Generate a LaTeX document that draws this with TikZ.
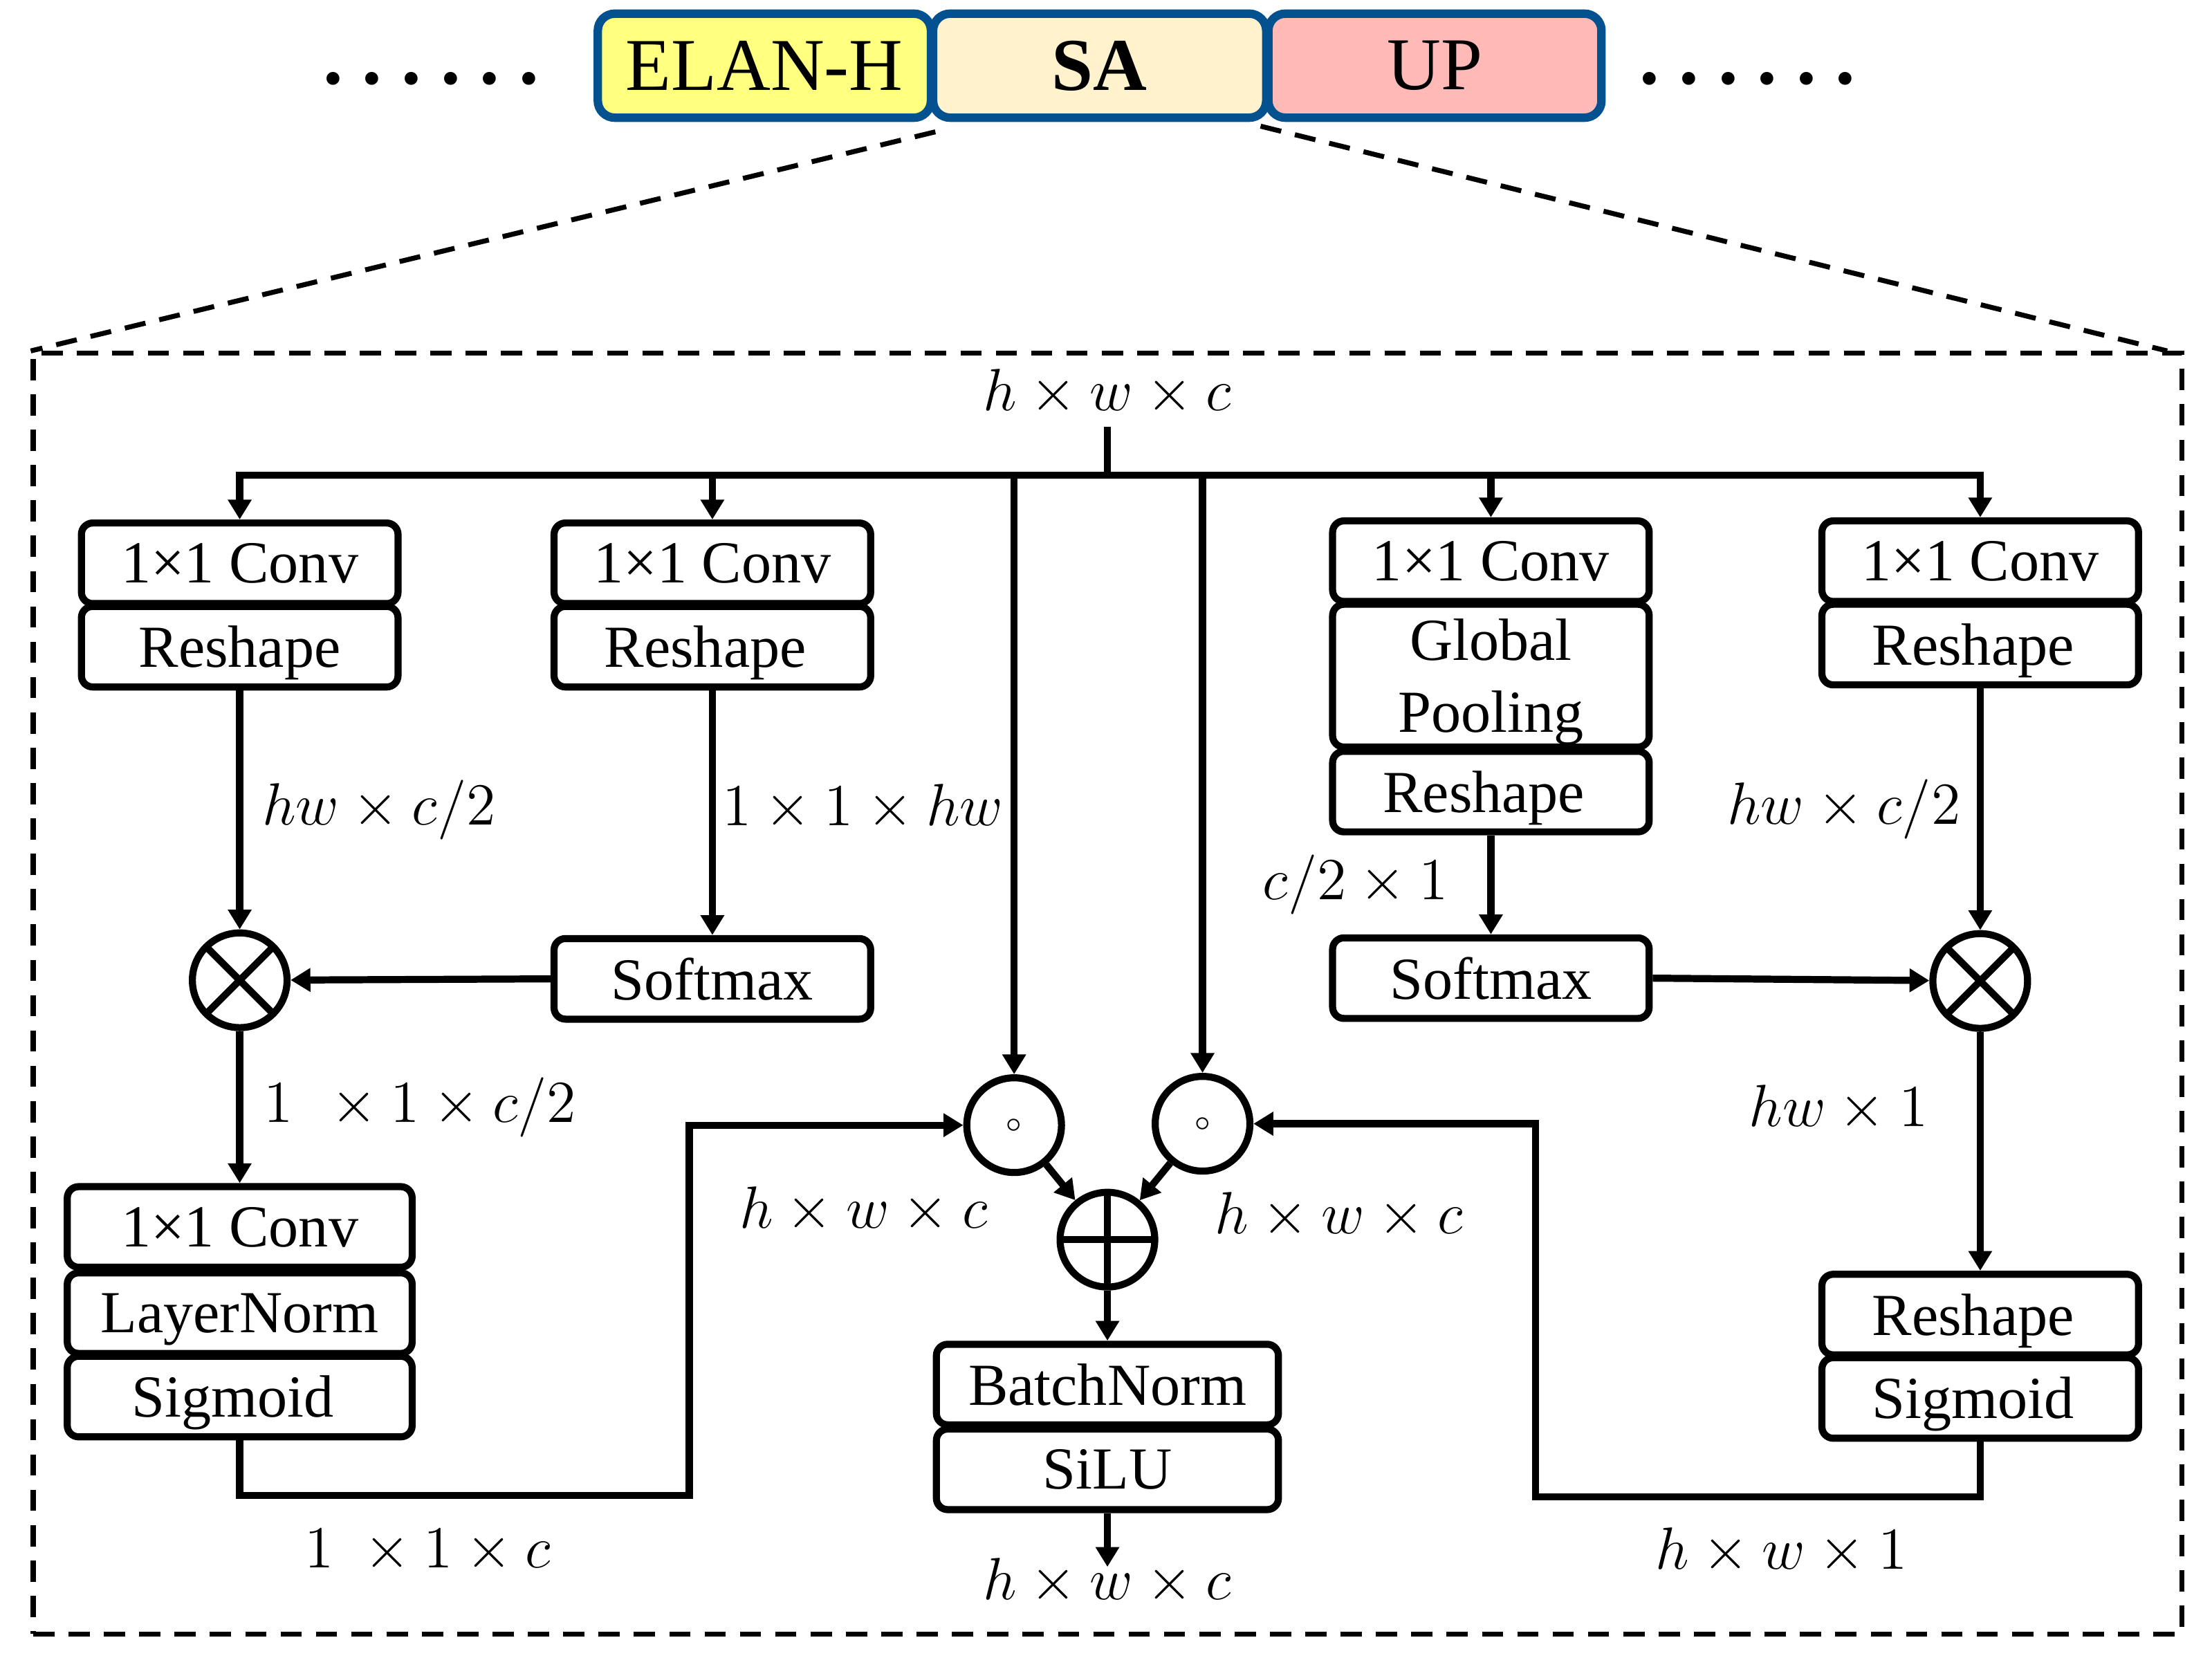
\documentclass[tikz,border=0pt]{standalone}
\usepackage{fontspec}
\setmainfont{Liberation Serif}
\usetikzlibrary{shapes.geometric,arrows.meta,positioning}
\definecolor{blockblue}{HTML}{03528F}
\definecolor{elanyellow}{HTML}{FFFF80}
\definecolor{sacream}{HTML}{FFF2CC}
\definecolor{uppink}{HTML}{FFB9B7}
\tikzstyle{arrow} = [line width=0.05cm,->,>={Stealth[length=0.14cm,width=0.16cm,inset=0pt]}]
\tikzstyle{wire} = [line width=0.05cm]
\tikzstyle{dashline} = [line width=0.035cm,dash pattern=on 0.15cm off 0.10cm]
\tikzstyle{box} = [draw,line width=0.05cm,rounded corners=0.08cm,inner sep=0pt,text depth=0pt,minimum width=2.24cm,minimum height=0.57cm,font=\fontsize{12}{14.5}\selectfont,align=center]
\tikzstyle{wide} = [box,minimum width=2.44cm]
\tikzstyle{topbox} = [draw=blockblue,line width=0.06cm,rounded corners=0.12cm,inner sep=0pt,minimum width=2.357cm,minimum height=0.736cm,font=\fontsize{15}{17}\selectfont]
\tikzstyle{ring} = [draw,circle,line width=0.05cm,inner sep=0pt,minimum size=0.67cm]
\tikzstyle{times} = [ring,path picture={\draw[line width=0.05cm] (path picture bounding box.north west) -- (path picture bounding box.south east) (path picture bounding box.north east) -- (path picture bounding box.south west);}]
\tikzstyle{plus} = [ring,path picture={\draw[line width=0.05cm] (path picture bounding box.north) -- (path picture bounding box.south) (path picture bounding box.west) -- (path picture bounding box.east);}]
\tikzstyle{dim} = [inner sep=0pt,outer sep=0pt,font=\fontsize{12.5}{15}\selectfont]
\newcommand{\sixdots}{\fontsize{16}{16}\selectfont\bfseries .\kern3.88pt.\kern3.88pt.\kern3.88pt.\kern3.88pt.\kern3.88pt.}
\newcommand{\tinycirc}{\fontsize{4}{4}\selectfont$\circ$}
\begin{document}
\begin{tikzpicture}
    \useasboundingbox (0,0) rectangle (15.65,11.79);
    % top row
    \node (sa) [topbox, fill=sacream] at (7.78,11.325) {\textbf{SA}};
    \node (elan) [topbox, fill=elanyellow, left=-0.045cm of sa] {ELAN-H};
    \node (up) [topbox, fill=uppink, right=-0.045cm of sa] {UP};
    \node (dotsl) [inner sep=0pt, left=0.38cm of elan, yshift=-0.09cm] {\sixdots};
    \node (dotsr) [inner sep=0pt, right=0.235cm of up, yshift=-0.09cm] {\sixdots};
    % dashed frame
    \node (frame) [draw, dashline, minimum width=15.2cm, minimum height=9.06cm, below=1.62cm of sa, xshift=0.055cm] {};
    \coordinate (split) at ([yshift=-0.8775cm]frame.north);
    \node (input) [dim, above=0.42cm of split] {$h\times w\times c$};
    % left branch
    \node (conv1) [box, below left=0.315cm and 4.994cm of split] {1×1 Conv};
    \node (reshape1) [box, below=-0.03cm of conv1] {Reshape};
    \node (mult1) [times, below=1.69cm of reshape1] {};
    \node (conv5) [wide, below=1.075cm of mult1] {1×1 Conv};
    \node (norm1) [wide, below=-0.01cm of conv5] {LayerNorm};
    \node (sigmoid1) [wide, below=-0.03cm of norm1] {Sigmoid\kern0.1cm};
    % second branch
    \node (conv2) [box, below left=0.315cm and 1.65cm of split] {1×1 Conv};
    \node (reshape2) [box, below=-0.03cm of conv2] {Reshape\kern0.1cm};
    \node (softmax1) [box, below=1.73cm of reshape2] {Softmax};
    % third branch
    \node (conv3) [box, below right=0.30cm and 1.568cm of split] {1×1 Conv};
    \node (pool) [box, minimum height=1.01cm, below=-0.03cm of conv3] {Global\\Pooling};
    \node (reshape3) [box, below=-0.02cm of pool] {Reshape\kern0.1cm};
    \node (softmax2) [box, below=0.70cm of reshape3] {Softmax};
    % right branch
    \node (conv4) [box, below right=0.30cm and 5.03cm of split] {1×1 Conv};
    \node (reshape4) [box, below=-0.03cm of conv4] {Reshape\kern0.1cm};
    \node (mult2) [times, below=1.71cm of reshape4] {};
    \node (reshape5) [box, below=1.69cm of mult2] {Reshape\kern0.1cm};
    \node (sigmoid2) [box, below=-0.03cm of reshape5] {Sigmoid\kern0.1cm};
    % middle
    \node (hada1) [ring, below=4.24cm of split, xshift=-0.66cm] {\tinycirc};
    \node (hada2) [ring, below=4.23cm of split, xshift=0.673cm] {\tinycirc};
    \node (add) [plus, below=5.05cm of split] {};
    \node (bnorm) [wide, minimum width=2.42cm, below=0.355cm of add] {BatchNorm};
    \node (silu) [wide, minimum width=2.42cm, below=-0.02cm of bnorm] {SiLU};
    \node (output) [dim, below=0.32cm of silu] {$h\times w\times c$};
    \coordinate (turn1) at ([yshift=-0.39cm,xshift=3.18cm]sigmoid1.south);
    \coordinate (turn2) at ([yshift=-0.39cm,xshift=-3.145cm]sigmoid2.south);
    % connect the nodes
    \draw[dashline] ([xshift=0.046cm,yshift=-0.07cm]sa.south west) -- (frame.north west);
    \draw[dashline] ([xshift=-0.07cm,yshift=-0.03cm]sa.south east) -- ([xshift=-0.12cm]frame.north east);
    \draw[wire, shorten <=0.08cm] (input) -- (split);
    \draw[arrow] (split) -| (conv1.north);
    \draw[arrow] (split) -| (conv2.north);
    \draw[arrow] (split) -| (conv3.north);
    \draw[arrow] (split) -| (conv4.north);
    \draw[arrow] (hada1 |- split) -- (hada1);
    \draw[arrow] (hada2 |- split) -- (hada2);
    \draw[arrow] (reshape1) -- node (dim1) [dim, right=0.16cm] {$hw\times c/2$} (mult1);
    \draw[arrow] (reshape2) -- node (dim2) [dim, right=0.07cm, yshift=0.04cm] {$1\times 1\times hw$} (softmax1);
    \draw[arrow] (reshape3) -- node (dim3) [dim, left=0.30cm] {$c/2\times 1$} (softmax2);
    \draw[arrow] (reshape4) -- node (dim4) [dim, left=0.14cm] {$hw\times c/2$} (mult2);
    \draw[arrow] (softmax1.west) -- (mult1);
    \draw[arrow] (softmax2.east) -- (mult2);
    \draw[arrow] (mult1) -- node (dim5) [dim, right=0.17cm] {$1\hspace{5pt}\times 1\times c/2$} (conv5);
    \draw[arrow] (mult2) -- node[pos=0.32] (dim6) [dim, left=0.37cm] {$hw\times 1$} (reshape5);
    \draw[arrow] (sigmoid1.south) |- (turn1) -- (turn1 |- hada1) -- (hada1);
    \draw[arrow] (sigmoid2.south) |- (turn2) -- (turn2 |- hada2) -- (hada2);
    \draw[arrow] (hada1) -- (add);
    \draw[arrow] (hada2) -- (add);
    \draw[arrow] (add) -- (bnorm);
    \draw[arrow, shorten >=-0.06cm] (silu) -- (output);
    % remaining sizes
    \node (dim7) [dim, left=0.49cm of add, yshift=0.21cm] {$h\times w\times c$};
    \node (dim8) [dim, right=0.40cm of add, yshift=0.17cm] {$h\times w\times c$};
    \node (dim9) [dim, below left=0.24cm and 0.98cm of turn1] {$1\;\times 1\times c$};
    \node (dim10) [dim, below right=0.22cm and 0.85cm of turn2] {$h\times w\times 1$};
\end{tikzpicture}
\end{document}
